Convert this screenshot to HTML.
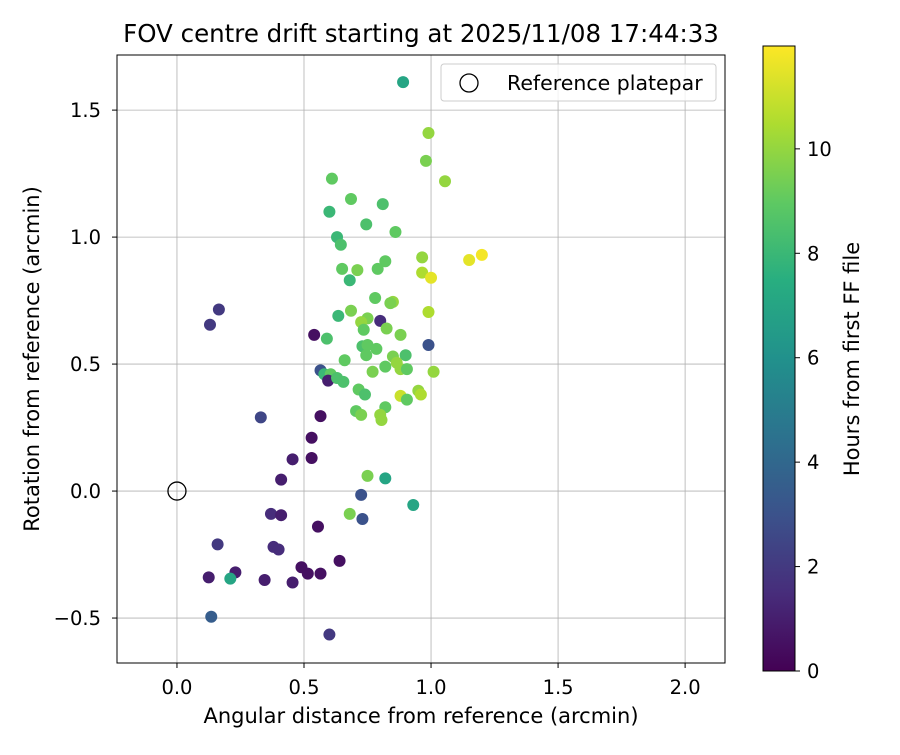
<!DOCTYPE html>
<html><head><meta charset="utf-8"><style>
body{margin:0;background:#fff;font-family:"Liberation Sans","DejaVu Sans",sans-serif}
</style></head><body>
<svg id="chart" width="900" height="750" xmlns="http://www.w3.org/2000/svg" font-family="DejaVu Sans, Liberation Sans, sans-serif">
<defs><linearGradient id="vir" x1="0" y1="1" x2="0" y2="0">
<stop offset="0" stop-color="#440154"/><stop offset="0.125" stop-color="#472d7b"/><stop offset="0.25" stop-color="#3b528b"/><stop offset="0.375" stop-color="#2c728e"/><stop offset="0.5" stop-color="#21918c"/><stop offset="0.625" stop-color="#28ae80"/><stop offset="0.75" stop-color="#5ec962"/><stop offset="0.875" stop-color="#addc30"/><stop offset="1" stop-color="#fde725"/></linearGradient></defs>
<g id="grid"></g><g id="pts"></g><g id="axes"></g>
</svg>
<script>
const xs=[0.89,0.99,0.98,1.055,0.61,0.685,0.81,0.60,0.63,0.645,0.745,0.86,1.15,1.20,0.82,0.965,0.65,0.71,0.79,0.68,0.965,1.0,0.78,0.85,0.84,0.685,0.99,0.635,0.75,0.725,0.80,0.735,0.825,0.88,0.54,0.59,0.99,0.13,0.165,0.73,0.75,0.785,0.745,0.85,0.90,0.66,0.865,0.88,0.905,0.82,0.77,1.01,0.565,0.58,0.605,0.595,0.63,0.655,0.715,0.74,0.95,0.96,0.88,0.905,0.82,0.705,0.725,0.80,0.805,0.33,0.565,0.53,0.455,0.53,0.75,0.82,0.725,0.41,0.93,0.68,0.73,0.37,0.41,0.555,0.16,0.38,0.40,0.64,0.49,0.515,0.565,0.23,0.125,0.21,0.345,0.455,0.135,0.60];
const ys=[1.61,1.41,1.30,1.22,1.23,1.15,1.13,1.10,1.00,0.97,1.05,1.02,0.91,0.93,0.905,0.92,0.875,0.87,0.875,0.83,0.86,0.84,0.76,0.745,0.74,0.71,0.705,0.69,0.68,0.665,0.67,0.635,0.64,0.615,0.615,0.60,0.575,0.655,0.715,0.57,0.575,0.56,0.535,0.53,0.535,0.515,0.505,0.48,0.48,0.49,0.47,0.47,0.475,0.46,0.46,0.435,0.445,0.43,0.40,0.38,0.395,0.38,0.375,0.36,0.33,0.315,0.30,0.30,0.28,0.29,0.295,0.21,0.125,0.13,0.06,0.05,-0.015,0.045,-0.055,-0.09,-0.11,-0.09,-0.095,-0.14,-0.21,-0.22,-0.23,-0.275,-0.30,-0.325,-0.325,-0.32,-0.34,-0.345,-0.35,-0.36,-0.495,-0.565];
const hours=[7,10,9.5,10,9,9,8.5,8,8,8.5,8.5,9,11.5,11.8,9,10,9,9.5,9,8,10.5,11.5,9,10,9.5,9.5,10.5,8,9.5,10,1.5,9,9.5,9.5,0.5,8.5,3,2,2,8.5,9,9,9,9.5,8.5,9,10,10,9,9,9.5,10,3,8,9,1,8.5,8.5,9,8.5,10,10.5,11,9,9,9,9.5,10,10,2.5,0.5,0.5,1,0.5,9.5,7,3,1,7,9.5,3,1.5,1,0.5,2,1.5,1.5,0.5,0.5,0.5,0.5,1,1,7,1,1,3.5,2];
const xTicks=[0,0.5,1,1.5,2], xTickLabels=["0.0","0.5","1.0","1.5","2.0"];
const yTicks=[-0.5,0,0.5,1,1.5], yTickLabels=["\u22120.5","0.0","0.5","1.0","1.5"];
const cTicks=[0,2,4,6,8,10];
const X0=117,X1=725,Y0=55,Y1=663,xmin=-0.236,xmax=2.157,ymin=-0.677,ymax=1.717,hmax=11.97;
const sx=v=>X0+(v-xmin)/(xmax-xmin)*(X1-X0), sy=v=>Y1-(v-ymin)/(ymax-ymin)*(Y1-Y0);
const cbTop=46,cbBot=671, sc=h=>cbBot-h/hmax*(cbBot-cbTop);
const V=[[68,1,84],[71,45,123],[59,82,139],[44,114,142],[33,145,140],[40,174,128],[94,201,98],[173,220,48],[253,231,37]];
function vir(t){t=Math.max(0,Math.min(1,t))*8;const i=Math.min(7,Math.floor(t)),f=t-i;return 'rgb('+V[i].map((c,k)=>Math.round(c+(V[i+1][k]-c)*f)).join(',')+')';}
const NS="http://www.w3.org/2000/svg";
function mk(p,tag,a,txt){const e=document.createElementNS(NS,tag);for(const k in a)e.setAttribute(k,a[k]);if(txt!==undefined)e.textContent=txt;p.appendChild(e);return e;}
const G=document.getElementById('grid'),P=document.getElementById('pts'),A=document.getElementById('axes');
xTicks.forEach((t,i)=>{const x=sx(t);
 const l=mk(G,'line',{x1:x,x2:x,y1:Y0,y2:Y1,stroke:'#b0b0b0','stroke-width':0.8});
 
 
 mk(A,'line',{x1:x,x2:x,y1:Y1,y2:Y1+5,stroke:'#000'});
 const tx=mk(A,'text',{x:x,y:694,'text-anchor':'middle','font-size':19.5},xTickLabels[i]);
 
 });
yTicks.forEach((t,i)=>{const y=sy(t);
 const l=mk(G,'line',{x1:X0,x2:X1,y1:y,y2:y,stroke:'#b0b0b0','stroke-width':0.8});
 
 
 mk(A,'line',{x1:X0-5,x2:X0,y1:y,y2:y,stroke:'#000'});
 const tx=mk(A,'text',{x:X0-16,y:y+7,'text-anchor':'end','font-size':19.5},yTickLabels[i]);
 
 });
xs.forEach((x,i)=>{const c=mk(P,'circle',{cx:sx(x),cy:sy(ys[i]),r:6,fill:vir(hours[i]/hmax)});
 
 });
const ref=mk(P,'circle',{cx:sx(0),cy:sy(0),r:9,fill:'none',stroke:'#000','stroke-width':1.3});


mk(A,'rect',{x:X0,y:Y0,width:X1-X0,height:Y1-Y0,fill:'none',stroke:'#000','stroke-width':1});
let t=mk(A,'text',{x:421,y:42,'text-anchor':'middle','font-size':24.5},'FOV centre drift starting at 2025/11/08 17:44:33');


t=mk(A,'text',{x:421,y:723,'text-anchor':'middle','font-size':21},'Angular distance from reference (arcmin)');


t=mk(A,'text',{x:39,y:359,'text-anchor':'middle','font-size':21,transform:'rotate(-90 39 359)'},'Rotation from reference (arcmin)');


const lg=mk(A,'g',{});


mk(lg,'rect',{x:441,y:64,width:275,height:37,rx:3,fill:'#fff','fill-opacity':0.8,stroke:'#ccc'});
mk(lg,'circle',{cx:469,cy:83,r:9,fill:'none',stroke:'#000','stroke-width':1.3});
mk(lg,'text',{x:507,y:90,'font-size':20.5},'Reference platepar');
const cb=mk(A,'rect',{x:763,y:cbTop,width:32,height:cbBot-cbTop,fill:'url(#vir)',stroke:'#000'});


cTicks.forEach(h=>{const y=sc(h);mk(A,'line',{x1:795,x2:800,y1:y,y2:y,stroke:'#000'});
 const tx=mk(A,'text',{x:807,y:y+7,'font-size':19.5},String(h));
 
 });
t=mk(A,'text',{x:859,y:359,'text-anchor':'middle','font-size':21,transform:'rotate(-90 859 359)'},'Hours from first FF file');


</script>
</body></html>
